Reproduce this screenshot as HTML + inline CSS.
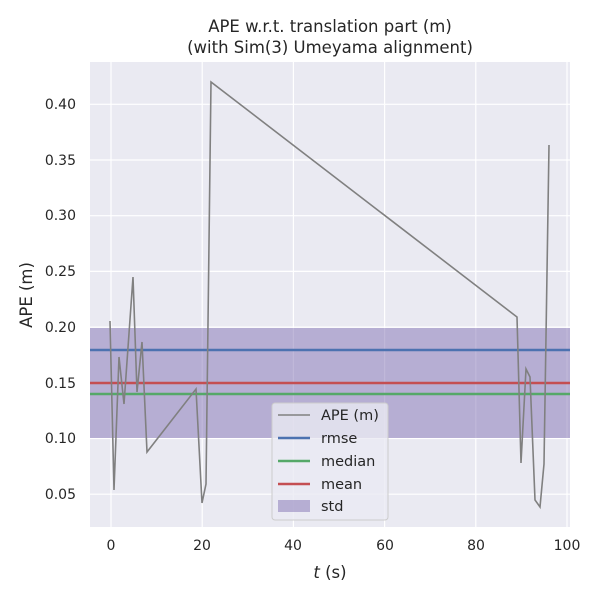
<!DOCTYPE html>
<html><head><style>body{margin:0;background:#fff}svg{font-family:"DejaVu Sans","Liberation Sans",sans-serif}</style></head><body>
<svg width="600" height="600" xmlns="http://www.w3.org/2000/svg">
<rect x="90" y="62" width="480" height="465" fill="#eaeaf2"/>
<g stroke="#fff" stroke-width="1.2">
<line x1="111" y1="62" x2="111" y2="527"/><line x1="202.2" y1="62" x2="202.2" y2="527"/><line x1="293.4" y1="62" x2="293.4" y2="527"/><line x1="384.6" y1="62" x2="384.6" y2="527"/><line x1="475.8" y1="62" x2="475.8" y2="527"/><line x1="567" y1="62" x2="567" y2="527"/>
<line x1="90" y1="104.3" x2="570" y2="104.3"/><line x1="90" y1="160" x2="570" y2="160"/><line x1="90" y1="215.7" x2="570" y2="215.7"/><line x1="90" y1="271.4" x2="570" y2="271.4"/><line x1="90" y1="327.1" x2="570" y2="327.1"/><line x1="90" y1="382.8" x2="570" y2="382.8"/><line x1="90" y1="438.5" x2="570" y2="438.5"/><line x1="90" y1="494.2" x2="570" y2="494.2"/>
</g>
<rect x="90" y="328" width="480" height="110" fill="#8172b3" fill-opacity="0.5"/>
<line x1="90" y1="350" x2="570" y2="350" stroke="#4c72b0" stroke-width="2.5"/>
<line x1="90" y1="383" x2="570" y2="383" stroke="#c44e52" stroke-width="2.5"/>
<line x1="90" y1="394" x2="570" y2="394" stroke="#55a868" stroke-width="2.5"/>
<polyline fill="none" stroke="#808080" stroke-width="1.6" points="110,321 114,490 119,357 124,404 133,277 137,392 142,342 147,452 196,389 202,503 206,484 211,82 517,317 521,463 526,369 530,377 535,500 540,507 544,464 549,145"/>
<g font-size="14" fill="#262626" text-anchor="end">
<text x="76" y="109">0.40</text><text x="76" y="165">0.35</text><text x="76" y="220">0.30</text><text x="76" y="276">0.25</text><text x="76" y="332">0.20</text><text x="76" y="388">0.15</text><text x="76" y="443">0.10</text><text x="76" y="499">0.05</text>
</g>
<g font-size="14" fill="#262626" text-anchor="middle">
<text x="111" y="550">0</text><text x="202" y="550">20</text><text x="293" y="550">40</text><text x="385" y="550">60</text><text x="476" y="550">80</text><text x="567" y="550">100</text>
<text x="330" y="578" font-size="16.5"><tspan font-style="italic">t</tspan> (s)</text>
<text x="330" y="32" font-size="16.5">APE w.r.t. translation part (m)</text>
<text x="330" y="53" font-size="16.5">(with Sim(3) Umeyama alignment)</text>
<text transform="translate(32,295) rotate(-90)" font-size="16.5">APE (m)</text>
</g>
<rect x="272" y="403" width="116" height="117" rx="3" fill="#eaeaf2" fill-opacity="0.8" stroke="#ccc"/>
<g stroke-width="2.5"><line x1="278" y1="415" x2="310" y2="415" stroke="#808080" stroke-width="1.6"/><line x1="278" y1="438" x2="310" y2="438" stroke="#4c72b0"/><line x1="278" y1="461" x2="310" y2="461" stroke="#55a868"/><line x1="278" y1="484" x2="310" y2="484" stroke="#c44e52"/></g>
<rect x="278" y="500" width="32" height="12" fill="#8172b3" fill-opacity="0.5"/>
<g font-size="14.5" fill="#262626"><text x="321" y="420">APE (m)</text><text x="321" y="443">rmse</text><text x="321" y="466">median</text><text x="321" y="489">mean</text><text x="321" y="511">std</text></g>
</svg></body></html>
